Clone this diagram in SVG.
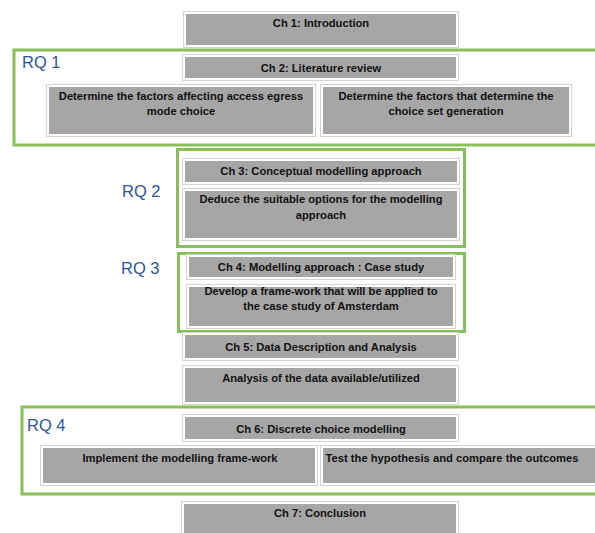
<svg xmlns="http://www.w3.org/2000/svg" width="595" height="533" viewBox="0 0 595 533">
  <style>
    .box { fill: #a6a6a6; stroke: #ffffff; stroke-width: 2; }
    .edge { fill: none; stroke: #d3d3d3; stroke-width: 1; }
    .rq { fill: none; stroke: #88c057; stroke-width: 3; }
    .t { font-family: "Liberation Sans", Arial, sans-serif; font-weight: bold; font-size: 11.2px; fill: #111111; text-anchor: middle; }
    .lbl { font-family: "Liberation Sans", Arial, sans-serif; font-size: 16.5px; fill: #2f5597; }
  </style>
  <rect width="595" height="533" fill="#ffffff"/>

  <!-- research question frames -->
  <g id="rq1">
    <rect class="rq" x="14" y="50" width="600" height="95"/>
    <text class="lbl" x="22" y="68">RQ 1</text>
  </g>
  <g id="rq2">
    <rect class="rq" x="177.5" y="149.5" width="287" height="97"/>
    <text class="lbl" x="122" y="197">RQ 2</text>
  </g>
  <g id="rq3">
    <rect class="rq" x="178.5" y="253.5" width="286" height="78"/>
    <text class="lbl" x="121" y="274">RQ 3</text>
  </g>
  <g id="rq4">
    <rect class="rq" x="22" y="407" width="600" height="87"/>
    <text class="lbl" x="27" y="431">RQ 4</text>
  </g>

  <!-- chapter and task boxes -->
  <g id="ch1">
    <rect class="edge" x="183.5" y="11.5" width="275" height="36"/>
    <rect class="box" x="185" y="13" width="272" height="33"/>
    <text class="t" x="321" y="27">Ch 1: Introduction</text>
  </g>
  <g id="ch2">
    <rect class="edge" x="182.5" y="54.5" width="276" height="26"/>
    <rect class="box" x="184" y="56" width="273" height="23"/>
    <text class="t" x="321" y="72">Ch 2: Literature review</text>
  </g>
  <g id="rq1-access-egress">
    <rect class="edge" x="46.5" y="84.5" width="269" height="52"/>
    <rect class="box" x="48" y="86" width="266" height="49"/>
    <text class="t" x="181" y="100">Determine the factors affecting access egress</text>
    <text class="t" x="181" y="115">mode choice</text>
  </g>
  <g id="rq1-choice-set">
    <rect class="edge" x="320.5" y="84.5" width="251" height="52"/>
    <rect class="box" x="322" y="86" width="248" height="49"/>
    <text class="t" x="446" y="100">Determine the factors that determine the</text>
    <text class="t" x="446" y="115">choice set generation</text>
  </g>
  <g id="ch3">
    <rect class="edge" x="182.5" y="158.5" width="277" height="26"/>
    <rect class="box" x="184" y="160" width="274" height="23"/>
    <text class="t" x="321" y="175">Ch 3: Conceptual modelling approach</text>
  </g>
  <g id="rq2-options">
    <rect class="edge" x="182.5" y="188.5" width="277" height="52"/>
    <rect class="box" x="184" y="190" width="274" height="49"/>
    <text class="t" x="321" y="203">Deduce the suitable options for the modelling</text>
    <text class="t" x="321" y="219">approach</text>
  </g>
  <g id="ch4">
    <rect class="edge" x="186.5" y="254.5" width="269" height="25"/>
    <rect class="box" x="188" y="256" width="266" height="22"/>
    <text class="t" x="321" y="271">Ch 4: Modelling approach : Case study</text>
  </g>
  <g id="rq3-framework">
    <rect class="edge" x="186.5" y="284.5" width="269" height="44"/>
    <rect class="box" x="188" y="286" width="266" height="41"/>
    <text class="t" x="321" y="295">Develop a frame-work that will be applied to</text>
    <text class="t" x="321" y="310">the case study of Amsterdam</text>
  </g>
  <g id="ch5">
    <rect class="edge" x="182.5" y="332.5" width="276" height="28"/>
    <rect class="box" x="184" y="334" width="273" height="25"/>
    <text class="t" x="321" y="351">Ch 5: Data Description and Analysis</text>
  </g>
  <g id="data-analysis">
    <rect class="edge" x="182.5" y="365.5" width="276" height="39"/>
    <rect class="box" x="184" y="367" width="273" height="36"/>
    <text class="t" x="321" y="382">Analysis of the data available/utilized</text>
  </g>
  <g id="ch6">
    <rect class="edge" x="182.5" y="414.5" width="276" height="27"/>
    <rect class="box" x="184" y="416" width="273" height="24"/>
    <text class="t" x="321" y="433">Ch 6: Discrete choice modelling</text>
  </g>
  <g id="rq4-implement">
    <rect class="edge" x="40.5" y="445.5" width="277" height="40"/>
    <rect class="box" x="42" y="447" width="274" height="37"/>
    <text class="t" x="180" y="462">Implement the modelling frame-work</text>
  </g>
  <g id="rq4-test">
    <rect class="edge" x="320.5" y="445.5" width="280" height="40"/>
    <rect class="box" x="322" y="447" width="277" height="37"/>
    <text class="t" x="452" y="462">Test the hypothesis and compare the outcomes</text>
  </g>
  <g id="ch7">
    <rect class="edge" x="181.5" y="501.5" width="277" height="36"/>
    <rect class="box" x="183" y="503" width="274" height="33"/>
    <text class="t" x="320" y="517">Ch 7: Conclusion</text>
  </g>
</svg>
